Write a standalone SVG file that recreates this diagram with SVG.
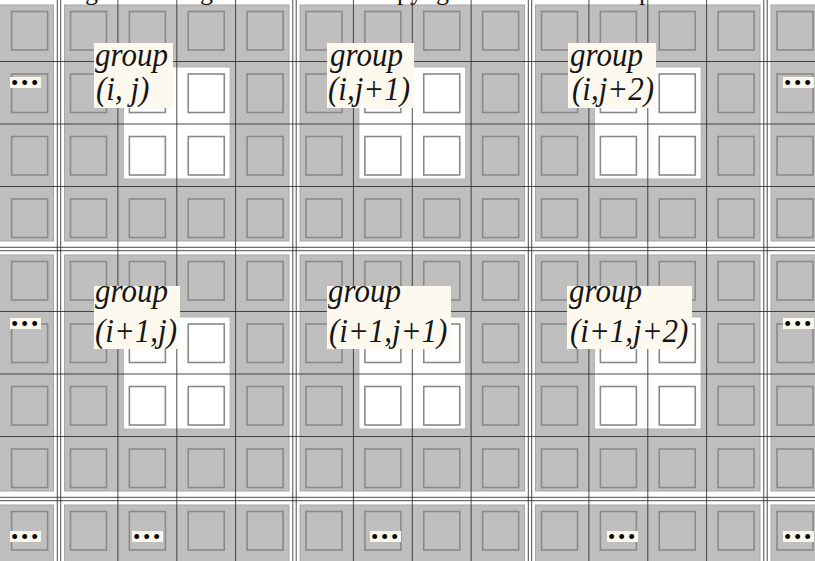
<svg xmlns="http://www.w3.org/2000/svg" width="815" height="561" viewBox="0 0 815 561">
<style>
.blk{fill:#bebebe;stroke:#a6a6a6;stroke-width:1}
.sq{fill:#bfbfbf;stroke:#8a8a8a;stroke-width:1.6}
.wsq{fill:#fff;stroke:#8a8a8a;stroke-width:1.6}
.hole{fill:#fff;stroke:#b4b4b4;stroke-width:1}
.ln{stroke:#2b2b2b;stroke-width:1;fill:none;opacity:.85}
.lbg{fill:#fdf9ee}
.t{font-family:"Liberation Serif","Times New Roman",serif;font-style:italic;font-size:31px;fill:#151515}
.cap{font-family:"Liberation Serif","Times New Roman",serif;font-size:26px;fill:#151515}
.mbg{fill:#fbf7ea}
.dots{font-family:"Liberation Sans",Arial,sans-serif;font-size:18px;letter-spacing:3.7px;fill:#000}
</style>
<defs>
<g id="row4">
<rect class="sq" x="0" y="0" width="36" height="38.5"/>
<rect class="sq" x="58.875" y="0" width="36" height="38.5"/>
<rect class="sq" x="117.75" y="0" width="36" height="38.5"/>
<rect class="sq" x="176.625" y="0" width="36" height="38.5"/>
</g>
<g id="grp16">
<use href="#row4" y="0"/>
<use href="#row4" y="62.5"/>
<use href="#row4" y="125"/>
<use href="#row4" y="187.5"/>
</g>
<g id="w4">
<rect class="wsq" x="0" y="0" width="36" height="38.5"/>
<rect class="wsq" x="58.875" y="0" width="36" height="38.5"/>
<rect class="wsq" x="0" y="62.5" width="36" height="38.5"/>
<rect class="wsq" x="58.875" y="62.5" width="36" height="38.5"/>
</g>
</defs>
<rect width="815" height="561" fill="#fff"/>

<!-- row 0 groups -->
<g id="g-r0-left"><rect class="blk" x="-171" y="5" width="224.5" height="236"/><use href="#grp16" x="-165" y="11.5"/></g>
<g id="g-i-j"><rect class="blk" x="64.5" y="5" width="224.5" height="236"/><use href="#grp16" x="70.5" y="11.5"/><rect class="hole" x="123.4" y="67" width="106.75" height="112"/><use href="#w4" x="129.375" y="74"/></g>
<g id="g-i-j1"><rect class="blk" x="300" y="5" width="224.5" height="236"/><use href="#grp16" x="306" y="11.5"/><rect class="hole" x="358.9" y="67" width="106.75" height="112"/><use href="#w4" x="364.875" y="74"/></g>
<g id="g-i-j2"><rect class="blk" x="535.5" y="5" width="224.5" height="236"/><use href="#grp16" x="541.5" y="11.5"/><rect class="hole" x="594.4" y="67" width="106.75" height="112"/><use href="#w4" x="600.375" y="74"/></g>
<g id="g-r0-right"><rect class="blk" x="771" y="5" width="224.5" height="236"/><use href="#grp16" x="777" y="11.5"/></g>

<!-- row 1 groups -->
<g id="g-r1-left"><rect class="blk" x="-171" y="255" width="224.5" height="236"/><use href="#grp16" x="-165" y="261.5"/></g>
<g id="g-i1-j"><rect class="blk" x="64.5" y="255" width="224.5" height="236"/><use href="#grp16" x="70.5" y="261.5"/><rect class="hole" x="123.4" y="317" width="106.75" height="112"/><use href="#w4" x="129.375" y="324"/></g>
<g id="g-i1-j1"><rect class="blk" x="300" y="255" width="224.5" height="236"/><use href="#grp16" x="306" y="261.5"/><rect class="hole" x="358.9" y="317" width="106.75" height="112"/><use href="#w4" x="364.875" y="324"/></g>
<g id="g-i1-j2"><rect class="blk" x="535.5" y="255" width="224.5" height="236"/><use href="#grp16" x="541.5" y="261.5"/><rect class="hole" x="594.4" y="317" width="106.75" height="112"/><use href="#w4" x="600.375" y="324"/></g>
<g id="g-r1-right"><rect class="blk" x="771" y="255" width="224.5" height="236"/><use href="#grp16" x="777" y="261.5"/></g>

<!-- row 2 groups (partial) -->
<g id="g-r2-left"><rect class="blk" x="-171" y="505" width="224.5" height="236"/><use href="#grp16" x="-165" y="511.5"/></g>
<g id="g-r2-c0"><rect class="blk" x="64.5" y="505" width="224.5" height="236"/><use href="#grp16" x="70.5" y="511.5"/></g>
<g id="g-r2-c1"><rect class="blk" x="300" y="505" width="224.5" height="236"/><use href="#grp16" x="306" y="511.5"/></g>
<g id="g-r2-c2"><rect class="blk" x="535.5" y="505" width="224.5" height="236"/><use href="#grp16" x="541.5" y="511.5"/></g>
<g id="g-r2-right"><rect class="blk" x="771" y="505" width="224.5" height="236"/><use href="#grp16" x="777" y="511.5"/></g>

<!-- grid lines -->
<g id="grid-lines">
<path class="ln" d="M117.9 0V561M176.8 0V561M235.6 0V561M353.4 0V561M412.3 0V561M471.1 0V561M588.9 0V561M647.8 0V561M706.6 0V561
M57.3 0V561M60.7 0V561M292.8 0V561M296.2 0V561M528.3 0V561M531.7 0V561M763.8 0V561M767.2 0V561
M0 61.5H815M0 124H815M0 186.5H815M0 311.5H815M0 374H815M0 436.5H815
M0 247.3H815M0 250.7H815M0 497.3H815M0 500.7H815"/>
</g>

<!-- cut-off caption -->
<text class="cap" y="0"><tspan x="85">g</tspan><tspan x="200">g</tspan><tspan x="397">p</tspan><tspan x="410">y</tspan><tspan x="436">g</tspan><tspan x="639">p</tspan></text>

<!-- labels -->
<g id="label-i-j"><rect class="lbg" x="94" y="43" width="79" height="65"/><text class="t" transform="translate(95 66) scale(1 1.1)">group</text><text class="t" transform="translate(96 100) scale(1 1.1)">(i, j)</text></g>
<g id="label-i-j1"><rect class="lbg" x="327" y="43" width="87" height="65"/><text class="t" transform="translate(330 66) scale(1 1.1)">group</text><text class="t" transform="translate(328 100) scale(1 1.1)">(i,j+1)</text></g>
<g id="label-i-j2"><rect class="lbg" x="568" y="43" width="88" height="65"/><text class="t" transform="translate(570 66) scale(1 1.1)">group</text><text class="t" transform="translate(572 100) scale(1 1.1)">(i,j+2)</text></g>
<g id="label-i1-j"><rect class="lbg" x="94" y="286" width="86" height="63"/><text class="t" transform="translate(95 302) scale(1 1.1)">group</text><text class="t" transform="translate(95 342) scale(1 1.1)">(i+1,j)</text></g>
<g id="label-i1-j1"><rect class="lbg" x="327" y="286" width="124" height="63"/><text class="t" transform="translate(328 302) scale(1 1.1)">group</text><text class="t" transform="translate(329 342) scale(1 1.1)">(i+1,j+1)</text></g>
<g id="label-i1-j2"><rect class="lbg" x="567" y="286" width="125" height="63"/><text class="t" transform="translate(569 302) scale(1 1.1)">group</text><text class="t" transform="translate(570 342) scale(1 1.1)">(i+1,j+2)</text></g>

<!-- ellipsis markers -->
<g id="more-r0-left"><rect class="mbg" x="10" y="77" width="31" height="11"/><text class="dots" x="11.5" y="88.5">•••</text></g>
<g id="more-r0-right"><rect class="mbg" x="783" y="77" width="31" height="11"/><text class="dots" x="784.5" y="88.5">•••</text></g>
<g id="more-r1-left"><rect class="mbg" x="10" y="318" width="31" height="11"/><text class="dots" x="11.5" y="329.5">•••</text></g>
<g id="more-r1-right"><rect class="mbg" x="783" y="318" width="31" height="11"/><text class="dots" x="784.5" y="329.5">•••</text></g>
<g id="more-r2-left"><rect class="mbg" x="10" y="531" width="31" height="11"/><text class="dots" x="11.5" y="542.5">•••</text></g>
<g id="more-r2-c0"><rect class="mbg" x="132" y="531" width="31" height="11"/><text class="dots" x="133.5" y="542.5">•••</text></g>
<g id="more-r2-c1"><rect class="mbg" x="370" y="531" width="31" height="11"/><text class="dots" x="371.5" y="542.5">•••</text></g>
<g id="more-r2-c2"><rect class="mbg" x="607" y="531" width="31" height="11"/><text class="dots" x="608.5" y="542.5">•••</text></g>
<g id="more-r2-right"><rect class="mbg" x="783" y="531" width="31" height="11"/><text class="dots" x="784.5" y="542.5">•••</text></g>
</svg>
